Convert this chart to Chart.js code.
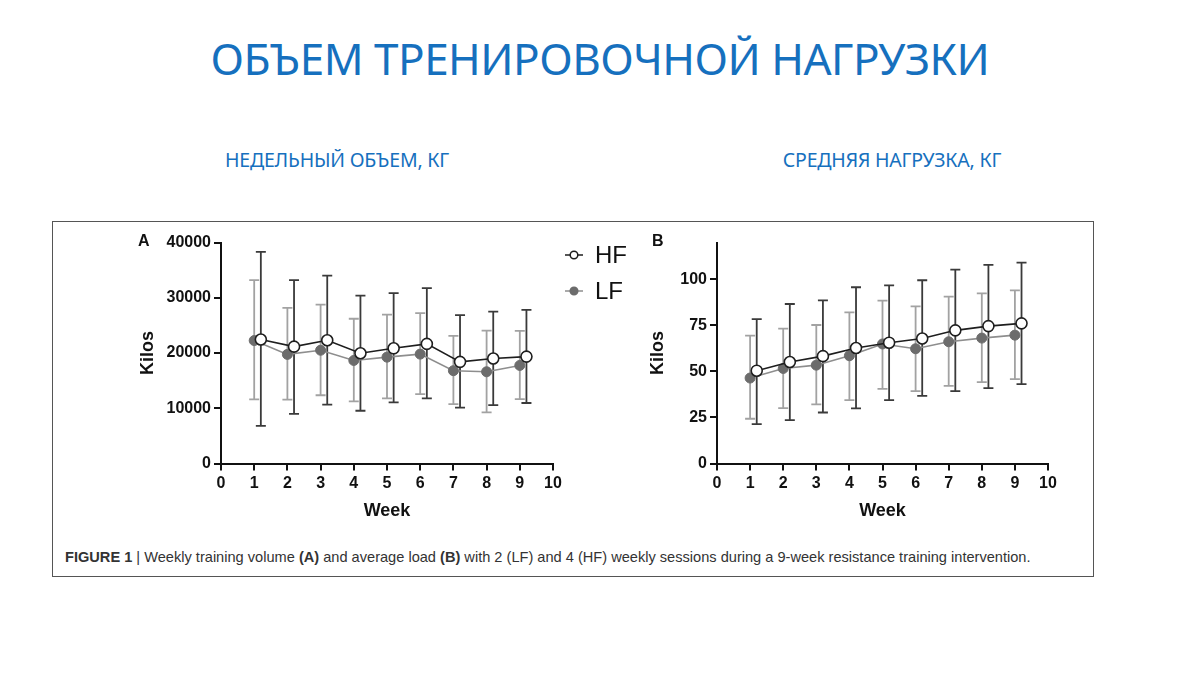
<!DOCTYPE html>
<html>
<head>
<meta charset="utf-8">
<script src="https://cdn.jsdelivr.net/npm/chart.js@4.4.1/dist/chart.umd.min.js"></script>
<style>
  body { margin: 0; width: 1200px; height: 675px; background: #fff; position: relative; overflow: hidden; }
  .title { position: absolute; left: 0; width: 1200px; top: 28px; text-align: center; color: #1670be;
           font-family: "Noto Sans", sans-serif; font-size: 44px; letter-spacing: -0.5px; }
  .sub { position: absolute; top: 146px; color: #1670be; font-family: "Noto Sans", sans-serif; font-size: 19.5px;
         transform: translateX(-50%); white-space: nowrap; letter-spacing: -0.2px; }
  .box { position: absolute; left: 52px; top: 221px; width: 1040px; height: 354px; border: 1.5px solid #555; }
  canvas { position: absolute; }
  .caption { position: absolute; left: 65px; top: 549px; font-family: "Liberation Sans", sans-serif;
             font-size: 14.6px; color: #333; white-space: nowrap; }
</style>
</head>
<body>
<div class="title">ОБЪЕМ ТРЕНИРОВОЧНОЙ НАГРУЗКИ</div>
<div class="sub" style="left:337px">НЕДЕЛЬНЫЙ ОБЪЕМ, КГ</div>
<div class="sub" style="left:892px">СРЕДНЯЯ НАГРУЗКА, КГ</div>
<div class="box"></div>
<canvas id="chartA" width="520" height="305" style="left:120px; top:225px"></canvas>
<canvas id="chartB" width="460" height="305" style="left:630px; top:225px"></canvas>
<div class="caption"><b>FIGURE 1</b> | Weekly training volume <b>(A)</b> and average load <b>(B)</b> with 2 (LF) and 4 (HF) weekly sessions during a 9-week resistance training intervention.</div>

<script>
  var weeks = [1, 2, 3, 4, 5, 6, 7, 8, 9];

  // A: weekly volume, kg
  var volHF     = [22450, 21150, 22300, 19950, 20850, 21650, 18400, 19000, 19350];
  var volHFLow  = [6800, 9000, 10650, 9550, 11050, 11800, 10100, 10550, 10950];
  var volHFHigh = [38300, 33200, 34000, 30400, 30850, 31750, 26850, 27500, 27800];
  var volLF     = [22250, 19750, 20500, 18650, 19250, 19800, 16800, 16600, 17750];
  var volLFLow  = [11600, 11550, 12350, 11250, 11800, 12550, 10750, 9250, 11650];
  var volLFHigh = [33200, 28150, 28750, 26200, 26950, 27200, 23100, 24050, 24000];
  var volTicks  = [0, 10000, 20000, 30000, 40000];

  // B: average load, kg
  var loadHF     = [50.4, 55.1, 58.3, 62.7, 65.6, 67.9, 72.3, 74.6, 76.1];
  var loadHFLow  = [21.4, 23.6, 27.7, 29.9, 34.4, 36.7, 39.3, 40.9, 43.1];
  var loadHFHigh = [78.4, 86.6, 88.6, 95.7, 96.7, 99.5, 105.3, 107.8, 109.1];
  var loadLF     = [46.4, 51.6, 53.4, 58.5, 64.9, 62.3, 66.1, 68.1, 69.7];
  var loadLFLow  = [24.3, 30.1, 32.1, 34.4, 40.5, 39.3, 42.2, 44.2, 45.8];
  var loadLFHigh = [69.4, 73.2, 75.2, 82.1, 88.4, 85.3, 90.6, 92.4, 94.0];
  var loadTicks  = [0, 25, 50, 75, 100];

  var hfShift = 0.2; // HF points are drawn a bit right of the week
  var axisFont = { family: '"Liberation Sans", Arial, sans-serif', weight: 'bold', size: 16 };
  var titleFont = { family: '"Liberation Sans", Arial, sans-serif', weight: 'bold', size: 18 };

  var errorBars = {
    id: 'errorBars',
    beforeDatasetsDraw: function(chart) {
      var ctx = chart.ctx, xs = chart.scales.x, ys = chart.scales.y;
      for (var i = chart.data.datasets.length - 1; i >= 0; i--) {
        var ds = chart.data.datasets[i];
        ctx.save();
        ctx.strokeStyle = ds.errColor;
        ctx.lineWidth = 1.8;
        ds.data.forEach(function(p, j) {
          var px = xs.getPixelForValue(p.x);
          var yl = ys.getPixelForValue(ds.errLow[j]);
          var yh = ys.getPixelForValue(ds.errHigh[j]);
          ctx.beginPath();
          ctx.moveTo(px, yl); ctx.lineTo(px, yh);
          ctx.moveTo(px - 5, yl); ctx.lineTo(px + 5, yl);
          ctx.moveTo(px - 5, yh); ctx.lineTo(px + 5, yh);
          ctx.stroke();
        });
        ctx.restore();
      }
    }
  };

  var panelExtras = {
    id: 'panelExtras',
    afterDraw: function(chart, args, opts) {
      var ctx = chart.ctx;
      ctx.save();
      ctx.fillStyle = '#111';
      ctx.font = 'bold 16px "Liberation Sans", Arial, sans-serif';
      ctx.textBaseline = 'middle';
      ctx.fillText(opts.letter, opts.letterX, opts.letterY);
      if (opts.legend) {
        var items = chart.data.datasets;
        items.forEach(function(ds, i) {
          var y = opts.legendY + i * 36;
          var x0 = opts.legendX;
          ctx.strokeStyle = ds.borderColor;
          ctx.lineWidth = 1.5;
          ctx.beginPath(); ctx.moveTo(x0, y); ctx.lineTo(x0 + 18, y); ctx.stroke();
          ctx.beginPath(); ctx.arc(x0 + 9, y, 3.8, 0, Math.PI * 2);
          ctx.fillStyle = ds.pointBackgroundColor; ctx.fill();
          ctx.strokeStyle = ds.pointBorderColor; ctx.stroke();
          ctx.fillStyle = '#111';
          ctx.font = '24px "Liberation Sans", Arial, sans-serif';
          ctx.fillText(ds.label, x0 + 30, y + 1);
        });
      }
      ctx.restore();
    }
  };

  function points(vals, shift) {
    return weeks.map(function(w, i) { return { x: w + shift, y: vals[i] }; });
  }

  function makeChart(id, hf, hfLo, hfHi, lf, lfLo, lfHi, yMax, yTicks, yWidth, padRight, extras) {
    return new Chart(document.getElementById(id), {
      type: 'line',
      data: {
        datasets: [{
          label: 'HF',
          data: points(hf, hfShift),
          errLow: hfLo, errHigh: hfHi, errColor: '#3a3a3a',
          borderColor: '#1e1e1e', borderWidth: 1.6,
          pointRadius: 5.5, pointBorderWidth: 1.6,
          pointBackgroundColor: '#ffffff', pointBorderColor: '#1e1e1e'
        }, {
          label: 'LF',
          data: points(lf, 0),
          errLow: lfLo, errHigh: lfHi, errColor: '#a2a2a2',
          borderColor: '#8e8e8e', borderWidth: 1.6,
          pointRadius: 5, pointBorderWidth: 1,
          pointBackgroundColor: '#6c6c6c', pointBorderColor: '#6c6c6c'
        }]
      },
      options: {
        responsive: false,
        animation: false,
        layout: { padding: { left: 0, right: padRight, top: 17.5, bottom: 0 } },
        plugins: { legend: { display: false }, tooltip: { enabled: false }, panelExtras: extras },
        scales: {
          x: {
            type: 'linear', min: 0, max: 10,
            ticks: { stepSize: 1, color: '#111', font: axisFont, padding: 3 },
            grid: { drawOnChartArea: false, drawTicks: true, tickLength: 7, color: '#111', lineWidth: 2 },
            border: { color: '#111', width: 2 },
            title: { display: true, text: 'Week', color: '#111', font: titleFont, padding: { top: 0, bottom: 8 } },
            afterFit: function(s) { s.height = 66.5; }
          },
          y: {
            min: 0, max: yMax,
            afterBuildTicks: function(s) { s.ticks = yTicks.map(function(v) { return { value: v }; }); },
            ticks: { color: '#111', font: axisFont, padding: 3, callback: function(v) { return v; } },
            grid: { drawOnChartArea: false, drawTicks: true, tickLength: 7, color: '#111', lineWidth: 2 },
            border: { color: '#111', width: 2 },
            title: { display: true, text: 'Kilos', color: '#111', font: titleFont, padding: { top: 17, bottom: 0 } },
            afterFit: function(s) { s.width = yWidth; }
          }
        }
      },
      plugins: [errorBars, panelExtras]
    });
  }

  makeChart('chartA', volHF, volHFLow, volHFHigh, volLF, volLFLow, volLFHigh, 40000, volTicks, 101, 87,
    { letter: 'A', letterX: 18, letterY: 17, legend: true, legendX: 445, legendY: 30 });
  makeChart('chartB', loadHF, loadHFLow, loadHFHigh, loadLF, loadLFLow, loadLFHigh, 120, loadTicks, 87, 42,
    { letter: 'B', letterX: 22, letterY: 17, legend: false });
</script>
</body>
</html>
